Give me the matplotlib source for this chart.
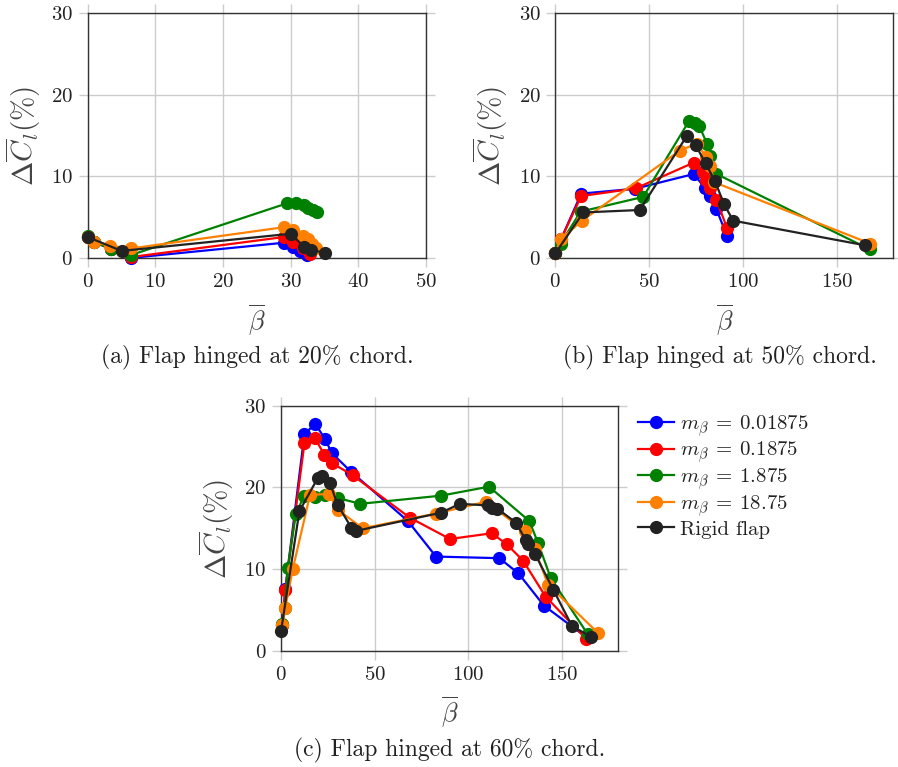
import matplotlib
matplotlib.use("Agg")
import matplotlib.pyplot as plt

plt.rcParams["font.family"] = ["cmr10", "DejaVu Serif"]
plt.rcParams["mathtext.fontset"] = "cm"
plt.rcParams["axes.formatter.use_mathtext"] = True

labels = [r"$m_\beta\:=\:0.01875$", r"$m_\beta\:=\:0.1875$", r"$m_\beta\:=\:1.875$",
          r"$m_\beta\:=\:18.75$", "Rigid flap"]
colors = ["#0000ff", "#ff0000", "#008000", "#ff8000", "#222222"]

# (a) flap hinged at 20% chord
a_blue_x = [0, 1.0, 3.5, 6.4, 29.0, 30.4, 31.4, 32.4]
a_blue_y = [2.6, 2.0, 1.1, 0.05, 1.9, 1.35, 0.85, 0.4]
a_red_x = [0, 1.0, 3.5, 6.4, 29.0, 30.4, 31.8, 32.9]
a_red_y = [2.6, 2.0, 1.1, 0.15, 2.6, 2.0, 1.3, 0.5]
a_green_x = [0, 1.0, 3.5, 6.4, 29.4, 30.8, 32.0, 32.6, 33.3, 33.9]
a_green_y = [2.7, 2.0, 1.1, 0.4, 6.7, 6.7, 6.45, 6.15, 5.9, 5.65]
a_orange_x = [0, 1.0, 3.3, 6.4, 29.0, 30.4, 31.8, 32.5, 33.1, 33.8]
a_orange_y = [2.6, 2.0, 1.5, 1.2, 3.8, 3.5, 2.7, 2.3, 1.8, 1.2]
a_black_x = [0, 5.0, 30.0, 32.0, 33.0, 35.0]
a_black_y = [2.6, 0.9, 3.0, 1.4, 1.0, 0.7]

# (b) flap hinged at 50% chord
b_blue_x = [0, 3, 13.8, 42.5, 73.8, 79.6, 82.3, 85.8, 91.5]
b_blue_y = [0.6, 2.3, 7.9, 8.5, 10.3, 8.6, 7.6, 6.0, 2.7]
b_red_x = [0, 3, 13.8, 42.9, 73.8, 78.4, 80.0, 82.3, 85.8, 91.5]
b_red_y = [0.6, 2.3, 7.6, 8.55, 11.7, 10.6, 9.6, 8.6, 7.1, 3.7]
b_green_x = [0, 2.8, 13.5, 46.8, 71.3, 74.3, 76.6, 80.8, 82.6, 85.8, 167.4]
b_green_y = [0.6, 1.8, 5.7, 7.5, 16.8, 16.5, 16.2, 14.0, 12.5, 10.3, 1.1]
b_orange_x = [0, 2.8, 14.2, 66.3, 75.2, 80.5, 82.6, 84.5, 167.7]
b_orange_y = [0.6, 2.3, 4.6, 13.15, 14.0, 12.4, 11.3, 9.3, 1.8]
b_black_x = [0, 14.9, 45.0, 69.9, 74.8, 80.0, 84.9, 89.9, 94.7, 164.7]
b_black_y = [0.6, 5.6, 5.9, 14.9, 13.8, 11.6, 9.5, 6.6, 4.6, 1.6]

# (c) flap hinged at 60% chord
c_blue_x = [0.7, 2.3, 12.5, 18.2, 23.6, 27.1, 37.5, 67.7, 82.7, 116.5, 126.7, 140.3, 163.5]
c_blue_y = [3.2, 7.6, 26.5, 27.8, 25.9, 24.2, 21.9, 15.9, 11.55, 11.35, 9.5, 5.55, 1.6]
c_red_x = [0.7, 2.3, 12.5, 17.9, 23.2, 27.1, 38.2, 68.75, 90.2, 112.5, 120.5, 129.2, 141.2, 163.0]
c_red_y = [3.2, 7.5, 25.4, 26.1, 24.0, 23.0, 21.5, 16.3, 13.7, 14.4, 13.05, 11.05, 6.65, 1.45]
c_green_x = [0.7, 2.1, 3.6, 7.9, 12.3, 18.2, 23.6, 30.4, 42.3, 85.5, 111.0, 132.5, 137.2, 144.0, 163.7]
c_green_y = [3.3, 5.2, 10.2, 16.7, 19.0, 18.8, 19.1, 18.7, 18.0, 19.0, 20.1, 15.9, 13.2, 8.9, 2.05]
c_orange_x = [0.7, 2.3, 6.25, 15.5, 25.7, 30.2, 43.6, 82.5, 109.4, 130.2, 135.3, 142.6, 169.2]
c_orange_y = [3.2, 5.3, 10.0, 19.1, 19.2, 17.3, 15.0, 16.8, 18.25, 14.65, 12.5, 8.1, 2.2]
c_black_x = [0, 9.8, 19.5, 22.1, 26.2, 30.2, 37.5, 40.2, 85.2, 95.5, 110.7, 112.7, 115.5,
             125.4, 130.5, 131.9, 135.5, 145.3, 155.3, 165.3]
c_black_y = [2.4, 17.1, 21.1, 21.4, 20.5, 17.9, 15.1, 14.7, 16.9, 18.0, 17.8, 17.5, 17.4,
             15.7, 13.6, 13.1, 11.9, 7.5, 3.05, 1.75]

panels = [
    ([a_blue_x, a_red_x, a_green_x, a_orange_x, a_black_x],
     [a_blue_y, a_red_y, a_green_y, a_orange_y, a_black_y],
     (0, 50), [0, 10, 20, 30, 40, 50], "(a) Flap hinged at 20% chord."),
    ([b_blue_x, b_red_x, b_green_x, b_orange_x, b_black_x],
     [b_blue_y, b_red_y, b_green_y, b_orange_y, b_black_y],
     (0, 180), [0, 50, 100, 150], "(b) Flap hinged at 50% chord."),
    ([c_blue_x, c_red_x, c_green_x, c_orange_x, c_black_x],
     [c_blue_y, c_red_y, c_green_y, c_orange_y, c_black_y],
     (0, 180), [0, 50, 100, 150], "(c) Flap hinged at 60% chord."),
]

W, H = 898, 767
fig = plt.figure(figsize=(W / 100, H / 100), dpi=100)

# axes boxes in pixels: left, top, right, bottom
boxes = [(87.7, 12.7, 426.0, 258.3), (555.3, 12.7, 893.3, 258.3), (281.0, 405.7, 618.3, 651.0)]
captions_xy = [(257, 357), (720, 357), (450, 750)]

grid_c = "#cccccc"
frame_c = "#333333"
label_c = "#444444"

axes = []
for (xs, ys, xlim, xticks, cap), (l, t, r, b), (cx, cy) in zip(panels, boxes, captions_xy):
    ax = fig.add_axes([l / W, 1 - b / H, (r - l) / W, (b - t) / H])
    for x, y, c, lab in zip(xs, ys, colors, labels):
        ax.plot(x, y, "-o", color=c, lw=1.6, ms=8.5, label=lab, clip_on=False, zorder=3)
    ax.set_xlim(*xlim)
    ax.set_ylim(0, 30)
    ax.set_xticks(xticks)
    ax.set_yticks([0, 10, 20, 30])
    ax.grid(True, color=grid_c, lw=1.0)
    ax.set_axisbelow(True)
    for s in ax.spines.values():
        s.set_color(frame_c)
        s.set_linewidth(1.0)
    ax.tick_params(axis="x", which="both", direction="out", length=6.5, width=1.0,
                   color=grid_c, top=True, labelsize=15, labelcolor="#222222", pad=4)
    ax.tick_params(axis="y", which="both", direction="out", length=6.5, width=1.0,
                   color=grid_c, right=True, labelsize=15, labelcolor="#222222", pad=4)
    ax.set_xlabel(r"$\overline{\beta}$", fontsize=19, color=label_c, labelpad=8)
    ax.set_ylabel(r"$\Delta\overline{C}_l(\%)$", fontsize=21, color=label_c, labelpad=6)
    fig.text(cx / W, 1 - cy / H, cap, ha="center", va="center", fontsize=17, color="#222222")
    axes.append(ax)

handles, labs = axes[2].get_legend_handles_labels()
fig.legend(handles, labs, loc="upper left", bbox_to_anchor=(634 / W, 1 - 409 / H),
           frameon=False, fontsize=15, handlelength=1.7, handletextpad=0.3,
           labelspacing=0.06, borderaxespad=0, borderpad=0.2, labelcolor="#222222")

fig.savefig("out.png", dpi=100)
